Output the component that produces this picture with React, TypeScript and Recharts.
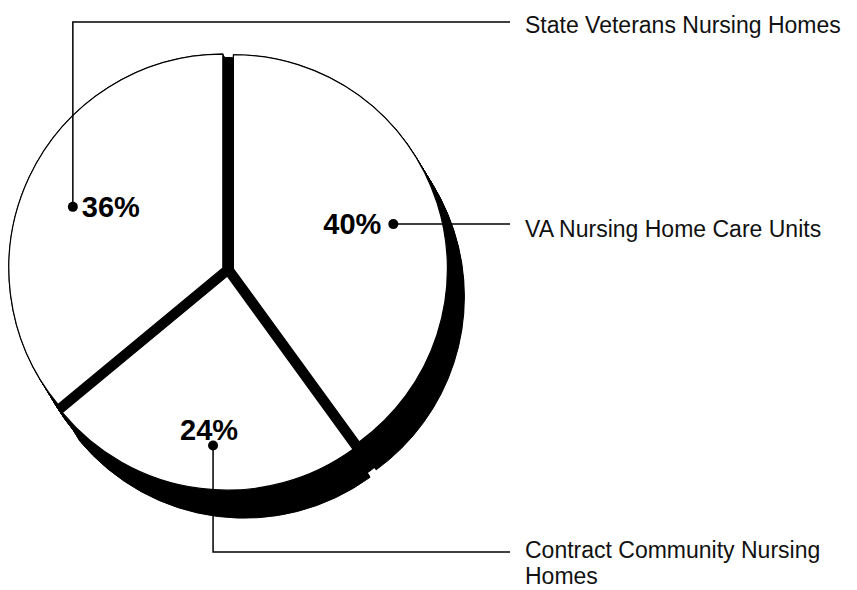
import React from "react";
import { PieChart, Pie, Sector } from "recharts";

// slices, clockwise from 12 o'clock
const categories = [
  "VA Nursing Home Care Units",
  "Contract Community Nursing Homes",
  "State Veterans Nursing Homes",
];
const shares = [40, 24, 36];
const legendLines = [
  ["VA Nursing Home Care Units"],
  ["Contract Community Nursing", "Homes"],
  ["State Veterans Nursing Homes"],
];

const data = categories.map((name, i) => ({ name, value: shares[i] }));

const CX = 228;
const CY = 270.5;
const R = 214;
const EXPLODE = 5.7;
const SHADOW_DX = 17;
const SHADOW_DY = 28;
const RAD = Math.PI / 180;
const FONT = "'Liberation Sans', Arial, Helvetica, sans-serif";

// label dot placement relative to each slice (radius, angle shift in degrees)
const DOT_RADIUS = [166, 170, 162];
const DOT_SHIFT = [-2.4, 2.4, 3];
const LEGEND_X = 525;
const LEADER_END = 510;
const LEADER_Y: (number | null)[] = [null, 552, 22];
const LEGEND_DY = [13, 6, 11];
const LINE_GAP = 26;

const explode = (midAngle: number) => [
  EXPLODE * Math.cos(-midAngle * RAD),
  EXPLODE * Math.sin(-midAngle * RAD),
];

const ShadowSector = (p: any) => {
  const [ox, oy] = explode(p.midAngle);
  const steps = 30;
  const layers = [];
  for (let k = 0; k <= steps; k++) {
    const sx = (SHADOW_DX * k) / steps;
    const sy = (SHADOW_DY * k) / steps;
    // un-exploded copy fills the gaps between slices
    layers.push(
      <Sector
        key={`b${k}`}
        cx={p.cx + sx}
        cy={p.cy + sy}
        innerRadius={0}
        outerRadius={p.outerRadius - 1}
        startAngle={p.startAngle}
        endAngle={p.endAngle}
        fill="#000"
        stroke="#000"
      />
    );
    layers.push(
      <Sector
        key={`e${k}`}
        cx={p.cx + ox + sx}
        cy={p.cy + oy + sy}
        innerRadius={0}
        outerRadius={p.outerRadius}
        startAngle={p.startAngle}
        endAngle={p.endAngle}
        fill="#000"
        stroke="#000"
      />
    );
  }
  return <g>{layers}</g>;
};

const FaceSector = (p: any) => {
  const [ox, oy] = explode(p.midAngle);
  return (
    <Sector
      cx={p.cx + ox}
      cy={p.cy + oy}
      innerRadius={0}
      outerRadius={p.outerRadius}
      startAngle={p.startAngle}
      endAngle={p.endAngle}
      fill="#fff"
      stroke="#000"
      strokeWidth={1.2}
    />
  );
};

const renderLabel = (p: any) => {
  const i = p.index;
  const [ox, oy] = explode(p.midAngle);
  const a = (p.midAngle + DOT_SHIFT[i]) * RAD;
  const x = p.cx + ox + DOT_RADIUS[i] * Math.cos(a);
  const y = p.cy + oy - DOT_RADIUS[i] * Math.sin(a);
  const pct = `${shares[i]}%`;
  const ly = LEADER_Y[i] ?? y;
  const leader =
    LEADER_Y[i] == null
      ? `M${x},${y}H${LEADER_END}`
      : `M${x},${y}V${ly}H${LEADER_END}`;

  let pctText;
  if (i === 0) {
    pctText = (
      <text x={x - 12} y={y + 10} textAnchor="end">
        {pct}
      </text>
    );
  } else if (i === 1) {
    pctText = (
      <text x={x - 4} y={y - 6} textAnchor="middle">
        {pct}
      </text>
    );
  } else {
    pctText = (
      <text x={x + 9} y={y + 10} textAnchor="start">
        {pct}
      </text>
    );
  }

  return (
    <g key={`lbl-${i}`}>
      <path d={leader} stroke="#000" strokeWidth={1.5} fill="none" />
      <circle cx={x} cy={y} r={5} fill="#000" />
      <g fontFamily={FONT} fontWeight="bold" fontSize={29} fill="#000">
        {pctText}
      </g>
      {legendLines[i].map((line, j) => (
        <text
          key={j}
          x={LEGEND_X}
          y={ly + LEGEND_DY[i] + j * LINE_GAP}
          fontFamily={FONT}
          fontSize={23}
          fill="#111"
        >
          {line}
        </text>
      ))}
    </g>
  );
};

export default function App() {
  return (
    <div style={{ position: "absolute", left: 0, top: 0, background: "#fff" }}>
      <PieChart
        width={857}
        height={590}
        margin={{ top: 0, right: 0, bottom: 0, left: 0 }}
      >
        <Pie
          data={data}
          dataKey="value"
          cx={CX}
          cy={CY}
          innerRadius={0}
          outerRadius={R}
          startAngle={90}
          endAngle={-270}
          stroke="none"
          shape={ShadowSector}
          activeShape={ShadowSector}
          inactiveShape={ShadowSector}
          isAnimationActive={false}
        />
        <Pie
          data={data}
          dataKey="value"
          cx={CX}
          cy={CY}
          innerRadius={0}
          outerRadius={R}
          startAngle={90}
          endAngle={-270}
          stroke="none"
          shape={FaceSector}
          activeShape={FaceSector}
          inactiveShape={FaceSector}
          label={renderLabel}
          labelLine={false}
          isAnimationActive={false}
        />
      </PieChart>
    </div>
  );
}
